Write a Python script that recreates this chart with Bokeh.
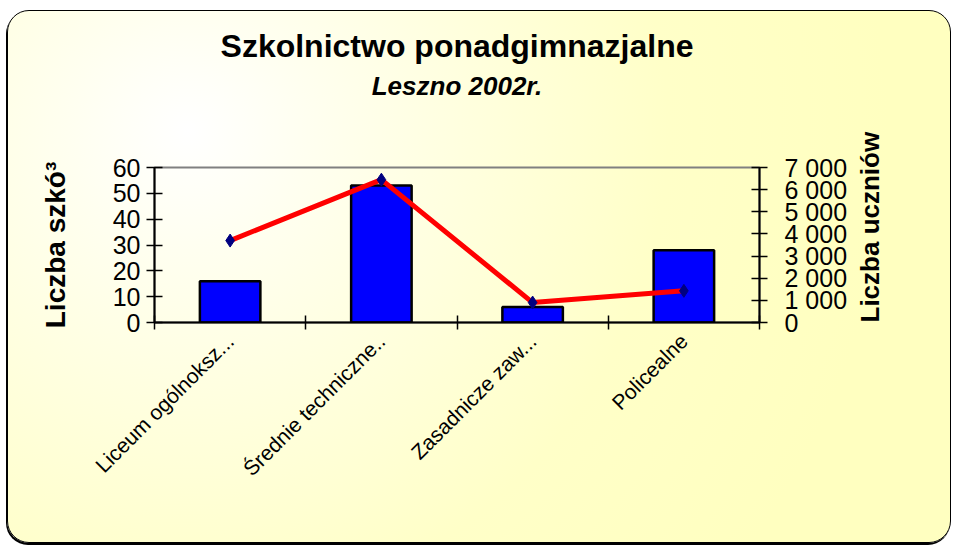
import math
from bokeh.plotting import figure
from bokeh.models import Range1d, LinearAxis, FixedTicker, Title
from bokeh.embed import file_html
from bokeh.resources import INLINE

# ---- data ----
categories = ["Liceum ogólnoksz...", "Średnie techniczne..", "Zasadnicze zaw...", "Policealne"]
schools = [16, 53, 6, 28]
students = [3700, 6450, 900, 1430]
left_ticks = [0, 10, 20, 30, 40, 50, 60]
right_ticks = [0, 1000, 2000, 3000, 4000, 5000, 6000, 7000]
right_tick_labels = ["0", "1 000", "2 000", "3 000", "4 000", "5 000", "6 000", "7 000"]
title_text = "Szkolnictwo ponadgimnazjalne"
subtitle_text = "Leszno 2002r."
left_label = "Liczba szkó³"
right_label = "Liczba uczniów"

FONT = "Liberation Sans"
W, H = 944, 533
FRAME_H = 155

xs = [i + 0.5 for i in range(len(categories))]
boundaries = list(range(len(categories) + 1))

p = figure(width=W, height=H, output_backend="svg", toolbar_location=None,
           x_range=Range1d(0, len(categories)), y_range=Range1d(left_ticks[0], left_ticks[-1]),
           min_border_left=146, min_border_right=193, min_border_top=156, min_border_bottom=H - 156 - FRAME_H)
p.extra_y_ranges = {"right": Range1d(right_ticks[0], right_ticks[-1])}

p.border_fill_color = None
p.background_fill_color = None
p.outline_line_color = "#808080"
p.outline_line_width = 2
p.xgrid.visible = False
p.ygrid.visible = False
p.styles = {
    "margin-left": "7px",
    "margin-top": "10px",
    "background": "radial-gradient(circle at 180px 120px, #ffffff 0px, #fffff0 120px, #ffffc8 480px, #ffffc0 700px)",
    "border": "1px solid #000",
    "border-radius": "22px",
    "box-shadow": "-1px 2px 0 #000",
}

# bars
p.vbar(x=xs, top=schools, width=0.4, bottom=0, fill_color="#0000ff", line_color="#000000", line_width=2.5)
# line
p.line(x=xs, y=students, y_range_name="right", line_color="#ff0000", line_width=5)
p.scatter(x=xs, y=students, y_range_name="right", marker="diamond", size=13, fill_color="#000080", line_color="#000080")

# x axis
xa = p.xaxis[0]
xa.ticker = FixedTicker(ticks=xs, minor_ticks=boundaries)
xa.major_label_overrides = {x: c for x, c in zip(xs, categories)}
xa.major_tick_in = 0
xa.major_tick_out = 0
xa.minor_tick_in = 7
xa.minor_tick_out = 7
xa.minor_tick_line_color = "#000000"
xa.minor_tick_line_width = 1.5
xa.axis_line_color = "#000000"
xa.axis_line_width = 2
xa.major_label_orientation = math.pi / 4
xa.major_label_text_font = FONT
xa.major_label_text_font_size = "21px"
xa.major_label_text_color = "#000000"
xa.major_label_standoff = 8

# left axis
ya = p.yaxis[0]
ya.ticker = FixedTicker(ticks=left_ticks, minor_ticks=[])
ya.major_tick_in = 8
ya.major_tick_out = 8
ya.major_tick_line_color = "#000000"
ya.major_tick_line_width = 1.5
ya.axis_line_color = "#000000"
ya.axis_line_width = 2
ya.major_label_text_font = FONT
ya.major_label_text_font_size = "25px"
ya.major_label_text_color = "#000000"
ya.major_label_standoff = 6
ya.axis_label = left_label
ya.axis_label_text_font = FONT
ya.axis_label_text_font_size = "28px"
ya.axis_label_text_font_style = "bold"
ya.axis_label_text_color = "#000000"
ya.axis_label_standoff = 39

# right axis
ra = LinearAxis(y_range_name="right", ticker=FixedTicker(ticks=right_ticks, minor_ticks=[]),
                major_label_overrides={t: l for t, l in zip(right_ticks, right_tick_labels)})
ra.major_tick_in = 8
ra.major_tick_out = 8
ra.major_tick_line_color = "#000000"
ra.major_tick_line_width = 1.5
ra.axis_line_color = "#000000"
ra.axis_line_width = 2
ra.major_label_text_font = FONT
ra.major_label_text_font_size = "25px"
ra.major_label_text_color = "#000000"
ra.major_label_standoff = 17
p.add_layout(ra, "right")

# right axis title (reads bottom-to-top) on a tick-less, line-less axis whose
# bounds start a little below the frame bottom
span = right_ticks[-1] - right_ticks[0]
shift = span * 17 / FRAME_H
ta = LinearAxis(y_range_name="right", ticker=FixedTicker(ticks=[], minor_ticks=[]),
                bounds=(right_ticks[0] - shift, right_ticks[0] + span / 2))
ta.axis_line_color = None
ta.major_tick_line_color = None
ta.minor_tick_line_color = None
ta.major_label_text_font_size = "0px"
ta.axis_label = right_label
ta.axis_label_orientation = math.pi / 2
try:
    ta.axis_label_align = "start"
except AttributeError:
    pass
ta.axis_label_text_font = FONT
ta.axis_label_text_font_size = "26px"
ta.axis_label_text_font_style = "bold"
ta.axis_label_text_color = "#000000"
ta.axis_label_standoff = 19
p.add_layout(ta, "right")

# titles, stacked outward from the frame: spacer, subtitle, title
p.add_layout(Title(text=" ", text_font_size="10px", standoff=49), "above")
p.add_layout(Title(text=subtitle_text, align="center", text_font=FONT, text_font_size="26px",
                   text_font_style="bold italic", text_color="#000000", standoff=10), "above")
p.add_layout(Title(text=title_text, align="center", text_font=FONT, text_font_size="32px",
                   text_font_style="bold", text_color="#000000", standoff=0), "above")

open("out.html", "w").write(file_html(p, INLINE))
